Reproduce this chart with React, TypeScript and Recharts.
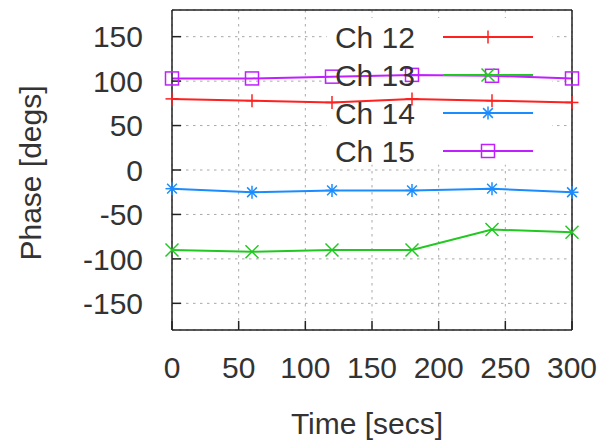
import React from 'react';
import { LineChart, Line, XAxis, YAxis, CartesianGrid, ReferenceArea } from 'recharts';

const times = [0, 60, 120, 180, 240, 300];
const ch12 = [80, 78, 76, 80, 78, 76];
const ch13 = [-90, -92, -90, -90, -67, -70];
const ch14 = [-21, -25, -23, -23, -21, -25];
const ch15 = [103, 103, 105, 107, 106, 103];
const xTicks = [0, 50, 100, 150, 200, 250, 300];
const yTicks = [-150, -100, -50, 0, 50, 100, 150];
const seriesNames = ['Ch 12', 'Ch 13', 'Ch 14', 'Ch 15'];
const seriesKeys = ['ch12', 'ch13', 'ch14', 'ch15'];
const seriesColors = ['#ff2020', '#22c822', '#1a8cff', '#c020ff'];
const seriesMarkers = ['plus', 'cross', 'star', 'square'];
const keyBoxX = [116, 285];
const keyBoxY = [6, 171];

const data = times.map((t, i) => ({ t, ch12: ch12[i], ch13: ch13[i], ch14: ch14[i], ch15: ch15[i] }));

const FONT = '"Liberation Sans", Arial, sans-serif';
const TXT = '#333';
const BORDER = '#222';

function Marker({ kind, cx, cy, color }: { kind: string; cx: number; cy: number; color: string }) {
  const s = 6.5;
  const sw = 1.5;
  if (kind === 'plus') {
    return (
      <g stroke={color} strokeWidth={sw}>
        <line x1={cx} y1={cy - s} x2={cx} y2={cy + s} />
        <line x1={cx - s} y1={cy} x2={cx + s} y2={cy} />
      </g>
    );
  }
  if (kind === 'cross') {
    return (
      <g stroke={color} strokeWidth={sw}>
        <line x1={cx - s} y1={cy - s} x2={cx + s} y2={cy + s} />
        <line x1={cx - s} y1={cy + s} x2={cx + s} y2={cy - s} />
      </g>
    );
  }
  if (kind === 'star') {
    return (
      <g stroke={color} strokeWidth={sw}>
        <line x1={cx} y1={cy - s} x2={cx} y2={cy + s} />
        <line x1={cx - s} y1={cy} x2={cx + s} y2={cy} />
        <line x1={cx - s * 0.75} y1={cy - s * 0.75} x2={cx + s * 0.75} y2={cy + s * 0.75} />
        <line x1={cx - s * 0.75} y1={cy + s * 0.75} x2={cx + s * 0.75} y2={cy - s * 0.75} />
      </g>
    );
  }
  return (
    <rect x={cx - s} y={cy - s} width={2 * s} height={2 * s} fill="none" stroke={color} strokeWidth={sw} />
  );
}

export default function App() {
  const legendRows = seriesNames.map((name, i) => {
    const y = 37 + i * 38;
    return (
      <g key={name}>
        <text x={415} y={y} textAnchor="end" dominantBaseline="central" fontSize={30} fill={TXT} fontFamily={FONT}>
          {name}
        </text>
        <line x1={443} y1={y} x2={533} y2={y} stroke={seriesColors[i]} strokeWidth={2} />
        <Marker kind={seriesMarkers[i]} cx={488} cy={y} color={seriesColors[i]} />
      </g>
    );
  });

  return (
    <div style={{ position: 'absolute', left: 0, top: 0, width: 601, height: 443, background: '#fff' }}>
      <LineChart
        width={601}
        height={443}
        data={data}
        margin={{ top: 9, right: 28, bottom: 53, left: 112 }}
        style={{ fontFamily: FONT }}
      >
        <CartesianGrid stroke="#a8a8a8" strokeDasharray="2.5 4.5" strokeWidth={1} />
        <ReferenceArea x1={keyBoxX[0]} x2={keyBoxX[1]} y1={keyBoxY[0]} y2={keyBoxY[1]} fill="#fff" fillOpacity={1} stroke="none" />
        <XAxis
          dataKey="t"
          type="number"
          domain={[0, 300]}
          ticks={xTicks}
          height={60}
          tickSize={-9}
          tickMargin={36}
          axisLine={{ stroke: BORDER, strokeWidth: 1.5 }}
          tickLine={{ stroke: BORDER, strokeWidth: 1.5 }}
          tick={{ fontSize: 30, fill: TXT, fontFamily: FONT }}
          interval={0}
        />
        <XAxis
          xAxisId="top"
          orientation="top"
          dataKey="t"
          type="number"
          domain={[0, 300]}
          ticks={xTicks}
          height={1}
          tickSize={-9}
          axisLine={{ stroke: BORDER, strokeWidth: 1.5 }}
          tickLine={{ stroke: BORDER, strokeWidth: 1.5 }}
          tick={false}
        />
        <YAxis
          type="number"
          domain={[-180, 180]}
          ticks={yTicks}
          width={60}
          tickSize={-9}
          tickMargin={38}
          axisLine={{ stroke: BORDER, strokeWidth: 1.5 }}
          tickLine={{ stroke: BORDER, strokeWidth: 1.5 }}
          tick={{ fontSize: 30, fill: TXT, fontFamily: FONT }}
          interval={0}
        />
        <YAxis
          yAxisId="right"
          orientation="right"
          type="number"
          domain={[-180, 180]}
          ticks={yTicks}
          width={1}
          tickSize={-9}
          axisLine={{ stroke: BORDER, strokeWidth: 1.5 }}
          tickLine={{ stroke: BORDER, strokeWidth: 1.5 }}
          tick={false}
        />
        {seriesKeys.map((k, i) => (
          <Line
            key={k}
            dataKey={k}
            type="linear"
            stroke={seriesColors[i]}
            strokeWidth={2}
            isAnimationActive={false}
            dot={(p: any) => <Marker key={`${k}-${p.index}`} kind={seriesMarkers[i]} cx={p.cx} cy={p.cy} color={seriesColors[i]} />}
            activeDot={false}
          />
        ))}
      </LineChart>
      <svg width={601} height={443} style={{ position: 'absolute', left: 0, top: 0, pointerEvents: 'none' }}>
        {legendRows}
        <text
          x={30}
          y={173}
          transform="rotate(-90 30 173)"
          textAnchor="middle"
          dominantBaseline="central"
          fontSize={30}
          fill={TXT}
          fontFamily={FONT}
        >
          Phase [degs]
        </text>
        <text x={367} y={423} textAnchor="middle" dominantBaseline="central" fontSize={30} fill={TXT} fontFamily={FONT}>
          Time [secs]
        </text>
      </svg>
    </div>
  );
}
